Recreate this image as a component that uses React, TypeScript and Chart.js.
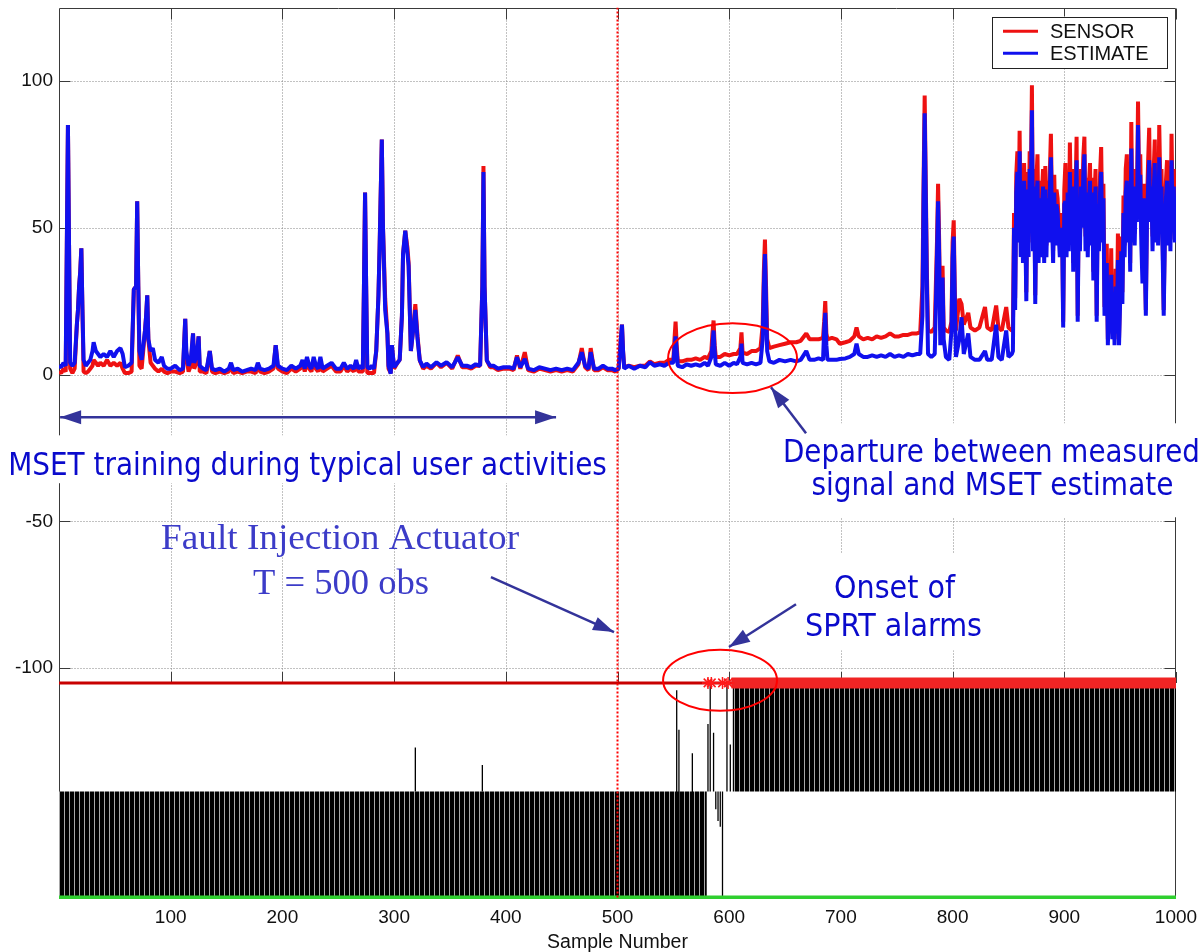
import React, { useEffect, useRef } from 'react';
import { Chart, registerables } from 'chart.js';

Chart.register(...registerables);

// ---------------------------------------------------------------------------
// Monitored signal: measured SENSOR value and MSET ESTIMATE per sample number
// ---------------------------------------------------------------------------

// Samples 0-248: training period
const SAMPLE_A = [
  0, 2, 4, 6, 7, 8, 9, 10,
  12, 14, 16, 17, 18, 19, 20, 21, 22,
  24, 26, 28, 30, 31, 33, 35, 37,
  40, 43, 46, 49, 52, 55, 57, 59,
  62, 65, 67, 69, 70, 71, 72, 74,
  77, 78, 79, 80, 82, 84, 86, 89,
  92, 94, 97, 100, 104, 108, 111, 113,
  114, 116, 118, 120, 121, 123, 125, 126,
  129, 132, 135, 137, 140, 144, 148, 152,
  154, 156, 160, 164, 168, 172, 176, 178,
  180, 184, 188, 192, 194, 196, 200, 204,
  208, 212, 216, 218, 220, 222, 224, 226,
  228, 230, 232, 234, 236, 240, 244, 248,
];
const SENSOR_A = [
  1, 0.5, 2, 1, 44, 85, 44, 2,
  0.5, 2, 17, 22, 30, 35, 43, 22, 1,
  0.5, 1, 2, 3, 5, 4, 3, 4,
  3, 5, 3, 4, 3, 4, 2, 0.5,
  0.5, 1, 29, 30, 59, 30, 3, 2,
  15, 20, 27, 12, 4, 3, 2, 1,
  2, 1, 0.5, 1, 1, 0.5, 1, 19,
  6, 1, 3, 14, 2, 4, 13, 1,
  1, 0.5, 8, 1, 0.5, 1, 0.5, 1,
  3, 0.5, 1, 0.5, 1, 1, 0.5, 3,
  1, 0.5, 1, 2, 10, 2, 1, 0.5,
  2, 1, 2, 4, 1, 5, 2, 1,
  5, 2, 1, 5, 1, 2, 3, 1,
];
const ESTIMATE_A = [
  3, 2.5, 4, 3, 44, 85, 44, 4,
  3, 4, 17, 22, 30, 35, 43, 22, 5,
  3, 4, 5, 8, 11, 8, 7, 6,
  7, 6, 8, 6, 8, 9, 7, 2.5,
  3, 4, 29, 30, 59, 30, 8, 5,
  15, 20, 27, 12, 8, 9, 5, 4,
  6, 3, 2, 2, 3, 1.5, 2, 19,
  8, 3, 5, 14, 4, 6, 13, 3,
  2, 1.5, 8, 2, 1.5, 2, 1, 2,
  4, 1.5, 2, 1, 1.5, 2, 1.5, 4,
  2, 1.5, 2, 3, 10, 3, 2, 1.5,
  3, 2, 3, 5, 2, 6, 3, 2,
  6, 3, 2, 6, 2, 3, 4, 2,
];

// Samples 252-498: end of training, before the fault
const SAMPLE_B = [
  252, 255, 258, 261, 264, 266, 268, 270,
  272, 273, 274, 275, 276, 278, 280, 282,
  284, 286, 287, 289, 290, 292, 294, 295,
  297, 298, 300, 303, 305, 307, 308, 310,
  312, 313, 315, 317, 319, 321, 323, 326,
  329, 333, 338, 342, 347, 352, 357, 361,
  365, 369, 373, 377, 379, 380, 381, 383,
  386, 389, 393, 398, 403, 407, 410, 413,
  417, 420, 425, 430, 435, 440, 445, 450,
  455, 460, 465, 468, 471, 474, 476, 479,
  483, 487, 491, 495, 498,
];
const SENSOR_B = [
  1, 3, 1, 2, 1, 4, 1, 1,
  1, 30, 62, 30, 0.5, 0.5, 0.5, 0.5,
  8, 27, 43, 80, 51, 26, 14, 2,
  0.5, 10, 2, 4, 5, 20, 41, 49,
  43, 38, 8, 15, 24, 13, 4.8, 2,
  3, 2, 4, 2.5, 4, 2, 6.5, 2.5,
  2.5, 2, 3, 3, 30, 71, 30, 4.8,
  2.5, 2.5, 1.5, 2, 2, 1.5, 6.5, 2,
  7.6, 1.5, 1, 2, 1.5, 1, 1.5, 1,
  1.5, 1, 3.5, 9, 2.5, 1.5, 9, 1.5,
  1.5, 2.5, 1.5, 1.5, 1,
];
const ESTIMATE_B = [
  2, 4, 2, 3, 2, 5, 2, 3,
  2, 30, 62, 30, 2.5, 2, 3, 2,
  8, 27, 43, 80, 51, 22, 14, 3,
  0.3, 10, 2.5, 4, 5, 20, 41, 49,
  41, 37, 8, 15, 22, 12, 4.8, 2.5,
  3.7, 2.5, 4.2, 3, 4.2, 2.5, 5.9, 3,
  3, 2.5, 3.5, 3, 30, 69, 30, 4.8,
  3, 3, 2, 2.5, 2.5, 2, 5.9, 2.5,
  5.3, 2, 1.5, 2.5, 2, 1.5, 2, 1.5,
  2, 1.5, 4, 7.6, 3, 2, 7.6, 2,
  2, 3, 2, 2, 1.5,
];

// Samples 501-853: after the fault is injected, sensor drifts above the estimate
const SAMPLE_C = [
  501, 503, 504, 505, 506, 510, 515, 520,
  525, 529, 533, 538, 542, 546, 550, 551,
  552, 553, 554, 558, 562, 566, 570, 574,
  578, 581, 584, 585, 586, 587, 588, 592,
  596, 600, 604, 607, 610, 611, 612, 616,
  620, 624, 628, 630, 631, 632, 633, 634,
  636, 640, 645, 650, 655, 660, 664, 669,
  672, 676, 680, 684, 685, 686, 687, 688,
  692, 696, 699, 704, 708, 712, 714, 716,
  720, 724, 728, 732, 736, 740, 744, 748,
  752, 756, 760, 764, 768, 771, 773, 774,
  775, 776, 777, 778, 781, 784, 786, 787,
  788, 789, 790, 791, 792, 794, 797, 799,
  800, 801, 802, 803, 806, 808, 810, 814,
  816, 820, 824, 829, 831, 835, 839, 841,
  844, 848, 850, 853,
];
const SENSOR_C = [
  2, 12, 17, 8, 2.5, 3, 2.5, 3,
  3, 4.5, 3.5, 4, 4, 5, 5, 12,
  18, 10, 4.5, 4.5, 5, 5, 5.5, 5,
  6, 5.5, 8, 14, 18.4, 10, 6, 6,
  7, 6.5, 7, 7, 9, 14.4, 7.5, 7,
  8, 8, 9, 17, 35, 46, 30, 12,
  9, 9.5, 10, 10.5, 11, 11, 11.5, 14,
  12, 12, 12, 12.5, 18, 25, 14, 12,
  12.5, 12, 10.5, 11, 11.5, 13, 16, 13,
  12, 12.5, 12, 13, 12.5, 13, 14, 13,
  13, 13.5, 13.5, 14, 14, 14.4, 30, 65,
  95, 65, 35, 15, 14.5, 16, 45, 65,
  45, 15, 32, 37, 16, 15, 14.5, 18,
  45, 52.5, 28, 15, 25.8, 24, 17, 21,
  16, 15, 16, 23, 16, 15, 23.5, 16,
  15, 23, 16, 15,
];
const ESTIMATE_C = [
  2, 12, 17, 8, 2, 3, 2, 3,
  2.5, 4.2, 3, 3.5, 3, 4, 4, 9,
  13, 8, 3, 2.5, 3.5, 3, 3.5, 3,
  4, 3, 6, 10, 15, 8, 3.5, 3,
  4, 3, 4, 3.5, 6, 10.5, 4, 3.5,
  4, 3.5, 4, 12, 30, 41, 25, 8,
  4.5, 4, 5, 4.5, 5, 4.5, 5, 8,
  5, 5, 5.5, 5, 15, 21, 10, 5,
  5, 5, 5.3, 5.5, 6, 7, 10.5, 7,
  6, 6, 6.5, 6, 6.5, 6, 7, 6,
  6.5, 6, 7, 6.5, 7, 7, 20, 60,
  89, 60, 30, 7, 6, 7, 40, 59,
  40, 10, 28, 33, 12, 6, 5, 15,
  40, 47, 25, 6, 12, 19.5, 7, 14,
  6, 5, 5, 8, 5, 5, 17, 6,
  5, 15, 6, 7,
];

// Samples 854-1000: high-activity period
const SAMPLE_D = [
  854, 855, 856, 857, 858, 859, 860, 861, 862, 863,
  864, 865, 866, 867, 868, 869, 870, 871, 872, 873,
  874, 875, 876, 877, 878, 879, 880, 881, 882, 883,
  884, 885, 886, 887, 888, 889, 890, 891, 892, 893,
  894, 896, 898, 899,
  900, 901, 902, 903, 904, 905, 906, 907, 908, 909,
  910, 911, 912, 913, 914, 915, 916, 917, 918, 919,
  920, 921, 922, 923, 924, 925, 926, 927, 928, 929,
  930, 931, 932, 933, 934, 935, 936, 937, 938, 939,
  940, 941, 942, 943, 944, 945, 946, 947, 948, 949,
  950, 951, 952, 953, 954, 955, 956, 957, 958, 959,
  960, 961, 962, 963, 964, 965, 966, 967, 968, 969,
  970, 971, 972, 973, 974, 975, 976, 977, 978, 979,
  980, 981, 982, 983, 984, 985, 986, 987, 988, 989,
  990, 991, 992, 993, 994, 995, 996, 997, 998, 999,
  1000,
];
const SENSOR_D = [
  15, 55, 26, 68, 76, 50, 83, 45, 66, 42,
  72, 57, 28, 69, 45, 76, 63, 98.5, 47, 70,
  27, 66, 75, 43, 66, 44, 62, 70, 42, 71,
  44, 66, 50, 68, 82, 57, 42, 68, 49, 63,
  60, 44, 55, 18,
  63, 72, 45, 68, 47, 79, 53, 70, 38, 70,
  60, 81, 20, 64, 46, 70, 55, 74, 81, 47,
  67, 44, 64, 72, 49, 67, 35, 60, 70, 20,
  64, 46, 68, 77.5, 50, 65, 23, 34, 44.5, 12,
  30, 18, 43, 14, 33, 12, 36, 16, 48, 12,
  30, 47, 28, 61, 44, 70, 75, 50, 67, 38,
  86, 50, 70, 48, 69, 57, 93, 63, 75, 49,
  43, 65, 45, 22, 57, 72, 84, 57, 70, 47,
  69, 80, 50, 70, 48, 85, 64, 70, 47, 22,
  50, 66, 73, 49, 68, 46, 82, 57, 70, 50,
  63,
];
const ESTIMATE_D = [
  8, 50, 22, 62, 69, 45, 76, 40, 60, 38,
  66, 52, 25, 63, 40, 70, 58, 90, 42, 64,
  24, 60, 66, 38, 60, 40, 57, 64, 38, 63,
  40, 60, 45, 62, 74, 52, 38, 62, 44, 58,
  55, 40, 50, 16,
  58, 59, 40, 62, 42, 69, 48, 64, 35, 62,
  55, 73, 18, 58, 42, 64, 50, 68, 75, 42,
  62, 40, 58, 66, 44, 62, 32, 55, 64, 18,
  58, 42, 62, 69, 45, 60, 20, 30, 38, 10,
  25, 15, 34, 12, 28, 10, 30, 14, 39, 10,
  25, 42, 24, 55, 40, 62, 66, 45, 60, 35,
  77, 45, 64, 44, 62, 52, 85, 58, 68, 44,
  31, 60, 40, 20, 52, 64, 73, 52, 64, 42,
  62, 72, 45, 64, 44, 74, 58, 64, 42, 20,
  45, 60, 66, 44, 62, 42, 73, 52, 64, 45,
  58,
];

const SAMPLES = [...SAMPLE_A, ...SAMPLE_B, ...SAMPLE_C, ...SAMPLE_D];
const SENSOR = [...SENSOR_A, ...SENSOR_B, ...SENSOR_C, ...SENSOR_D];
const ESTIMATE = [...ESTIMATE_A, ...ESTIMATE_B, ...ESTIMATE_C, ...ESTIMATE_D];

// ---------------------------------------------------------------------------
// SPRT alarm trace (drawn in the lower band of the same axes)
// ---------------------------------------------------------------------------
const FAULT_SAMPLE = 500;
const SPRT_ALARM_LEVEL = -105;
const SPRT_BASELINE = -178;

// Densely toggling SPRT index: [start, end] sample ranges with floor / ceiling levels
const SPRT_BAND_START = [0, 603];
const SPRT_BAND_END = [580, 1000];
const SPRT_BAND_FLOOR = [-180, -142];
const SPRT_BAND_CEIL = [-142, -105];

// Isolated SPRT excursions
const SPRT_SPIKE_X = [319, 379, 553, 555, 567, 581, 583, 586, 588, 590, 592, 594, 598, 601];
const SPRT_SPIKE_LOW = [-142, -142, -180, -180, -180, -142, -142, -142, -148, -152, -154, -180, -142, -142];
const SPRT_SPIKE_HIGH = [-127, -133, -107.5, -121, -129, -119, -106, -122, -142, -142, -142, -142, -105, -126];

// First alarms (individual markers) and the continuous alarm run
const ALARM_MARKERS = [581, 584, 594, 599];
const ALARM_RUN = [602, 1000];

// ---------------------------------------------------------------------------
// Axes
// ---------------------------------------------------------------------------
const X_TICKS = [100, 200, 300, 400, 500, 600, 700, 800, 900, 1000];
const Y_TICKS = [-100, -50, 0, 50, 100];
const Y_MIN = -178.6;
const Y_MAX = 125;

// ---------------------------------------------------------------------------
// Annotations (sample / value coordinates)
// ---------------------------------------------------------------------------
const NOTE_BOXES = [
  { s0: -53, s1: 495, v0: -20.7, v1: -37 },
  { s0: 627.6, s1: 1025, v0: -16.6, v1: -48.6 },
  { s0: 649, s1: 851.4, v0: -60.8, v1: -93.9 },
];
const SANS_NOTES = [
  { text: 'MSET training during typical user activities', s: 222.5, v: -34.3, w: 536 },
  { text: 'Departure between measured', s: 834.8, v: -29.9, w: 373.3 },
  { text: 'signal and MSET estimate', s: 835.7, v: -41.1, w: 324.1 },
  { text: 'Onset of', s: 748, v: -76.2, w: 108.3 },
  { text: 'SPRT alarms', s: 747.1, v: -89.1, w: 158.5 },
];
const SERIF_NOTES = [
  { text: 'Fault Injection Actuator', s: 251.6, v: -59.5, w: 320.5 },
  { text: 'T = 500 obs', s: 252.5, v: -74.8, w: 157.6 },
];
const ARROWS = [
  { s0: 1, v0: -14.55, s1: 445, v1: -14.55, both: true },
  { s0: 386.7, v0: -69, s1: 496.9, v1: -87.7, both: false },
  { s0: 668.8, v0: -20, s1: 637.4, v1: -4.3, both: false },
  { s0: 659.8, v0: -78.2, s1: 599.8, v1: -92.8, both: false },
];
const RINGS = [
  { s: 603, v: 5.6, rs: 57.7, rv: 11.9 },
  { s: 591.8, v: -104.1, rs: 51, rv: 10.4 },
];

const SENSOR_COLOR = '#ee1111';
const ESTIMATE_COLOR = '#1010ee';
const NOTE_COLOR = '#0a0acc';
const SERIF_COLOR = '#3c3cc8';
const ARROW_COLOR = '#33339a';
const AXIS_FONT = '"Liberation Sans", Arial, Helvetica, sans-serif';

const points = (xs: number[], ys: (number | null)[]) => xs.map((x, i) => ({ x, y: ys[i] }));

// Fine vertical hatch used for the rapidly toggling SPRT index
function stripePattern(ctx: CanvasRenderingContext2D): CanvasPattern | string {
  const tile = document.createElement('canvas');
  tile.width = 5;
  tile.height = 4;
  const g = tile.getContext('2d');
  if (!g) return '#000';
  g.fillStyle = '#000';
  g.fillRect(0, 0, 5, 4);
  g.fillStyle = '#a8a8a8';
  g.fillRect(4, 0, 1, 4);
  return ctx.createPattern(tile, 'repeat') || '#000';
}

function drawArrowHead(ctx: CanvasRenderingContext2D, x0: number, y0: number, x1: number, y1: number) {
  const ang = Math.atan2(y1 - y0, x1 - x0);
  const len = 21;
  const half = 7;
  const bx = x1 - Math.cos(ang) * len;
  const by = y1 - Math.sin(ang) * len;
  ctx.beginPath();
  ctx.moveTo(x1, y1);
  ctx.lineTo(bx + Math.sin(ang) * half, by - Math.cos(ang) * half);
  ctx.lineTo(bx - Math.sin(ang) * half, by + Math.cos(ang) * half);
  ctx.closePath();
  ctx.fill();
}

const frameAndGrid = {
  id: 'frameAndGrid',
  beforeDatasetsDraw(chart: any) {
    const { ctx, chartArea: a, scales } = chart;
    const xs = scales.x;
    const ys = scales.y;
    const upperBottom = Math.round(ys.getPixelForValue(SPRT_ALARM_LEVEL));
    const L = Math.round(a.left) + 0.5;
    const R = Math.round(a.right) - 0.5;
    const T = Math.round(a.top) + 0.5;
    const B = Math.round(a.bottom) - 0.5;
    const line = (x0: number, y0: number, x1: number, y1: number) => {
      ctx.beginPath();
      ctx.moveTo(x0, y0);
      ctx.lineTo(x1, y1);
      ctx.stroke();
    };
    ctx.save();
    ctx.lineWidth = 1;
    ctx.strokeStyle = '#858585';
    ctx.setLineDash([1, 2]);
    for (const v of Y_TICKS) {
      const p = Math.round(ys.getPixelForValue(v)) + 0.5;
      line(L, p, R, p);
    }
    for (const s of X_TICKS) {
      if (s >= 1000) continue;
      const p = Math.round(xs.getPixelForValue(s)) + 0.5;
      line(p, T, p, upperBottom);
    }
    ctx.setLineDash([]);
    ctx.strokeStyle = '#3a3a3a';
    line(L, T, R, T);
    line(L, T, L, B);
    line(R, T, R, B);
    line(L, B, R, B);
    const tick = 11;
    for (const v of Y_TICKS) {
      const p = Math.round(ys.getPixelForValue(v)) + 0.5;
      line(L, p, L + tick, p);
      line(R - tick, p, R, p);
    }
    for (const s of X_TICKS) {
      const p = Math.round(xs.getPixelForValue(s)) + 0.5;
      line(p, T, p, T + tick);
      line(p, upperBottom - tick, p, upperBottom);
    }
    ctx.restore();
  },
};

const notes = {
  id: 'notes',
  afterDatasetsDraw(chart: any) {
    const { ctx, chartArea: a, scales } = chart;
    const X = (s: number) => scales.x.getPixelForValue(s);
    const Y = (v: number) => scales.y.getPixelForValue(v);
    ctx.save();

    // white backing boxes behind the callout text
    ctx.fillStyle = '#ffffff';
    for (const b of NOTE_BOXES) {
      ctx.fillRect(X(b.s0), Y(b.v0), X(b.s1) - X(b.s0), Y(b.v1) - Y(b.v0));
    }

    // red rings
    ctx.strokeStyle = '#ff0000';
    ctx.lineWidth = 2;
    for (const r of RINGS) {
      ctx.beginPath();
      ctx.ellipse(X(r.s), Y(r.v), X(r.s + r.rs) - X(r.s), Y(r.v - r.rv) - Y(r.v), 0, 0, Math.PI * 2);
      ctx.stroke();
    }

    // arrows
    ctx.strokeStyle = ARROW_COLOR;
    ctx.fillStyle = ARROW_COLOR;
    ctx.lineWidth = 2.5;
    for (const ar of ARROWS) {
      const x0 = X(ar.s0), y0 = Y(ar.v0), x1 = X(ar.s1), y1 = Y(ar.v1);
      ctx.beginPath();
      ctx.moveTo(x0, y0);
      ctx.lineTo(x1, y1);
      ctx.stroke();
      drawArrowHead(ctx, x0, y0, x1, y1);
      if (ar.both) drawArrowHead(ctx, x1, y1, x0, y0);
    }

    // callout text, fitted to its width
    const fit = (text: string, s: number, v: number, w: number, font: string, color: string) => {
      ctx.font = font;
      const natural = ctx.measureText(text).width;
      const target = X(s + w / 2) - X(s - w / 2);
      ctx.save();
      ctx.translate(X(s), Y(v));
      ctx.scale(target / natural, 1);
      ctx.fillStyle = color;
      ctx.textAlign = 'center';
      ctx.textBaseline = 'alphabetic';
      ctx.fillText(text, 0, 0);
      ctx.restore();
    };
    for (const n of SANS_NOTES) fit(n.text, n.s, n.v, n.w, '32px "DejaVu Sans", Verdana, sans-serif', NOTE_COLOR);
    for (const n of SERIF_NOTES) fit(n.text, n.s, n.v, n.w, '36px "Liberation Serif", "Times New Roman", serif', SERIF_COLOR);

    // legend box
    const lx1 = a.right - 9;
    const lx0 = lx1 - 175;
    const ly0 = a.top + 9;
    ctx.fillStyle = '#ffffff';
    ctx.fillRect(lx0, ly0, 175, 51);
    ctx.strokeStyle = '#222';
    ctx.lineWidth = 1;
    ctx.strokeRect(Math.round(lx0) + 0.5, Math.round(ly0) + 0.5, 175, 51);
    const entries = [
      { label: 'SENSOR', color: SENSOR_COLOR, y: ly0 + 14.7 },
      { label: 'ESTIMATE', color: ESTIMATE_COLOR, y: ly0 + 36.7 },
    ];
    ctx.font = `20px ${AXIS_FONT}`;
    ctx.textBaseline = 'alphabetic';
    ctx.textAlign = 'left';
    for (const e of entries) {
      ctx.strokeStyle = e.color;
      ctx.lineWidth = 3;
      ctx.beginPath();
      ctx.moveTo(lx0 + 11, e.y);
      ctx.lineTo(lx0 + 46, e.y);
      ctx.stroke();
      ctx.fillStyle = '#111';
      ctx.fillText(e.label, lx0 + 58, e.y + 7);
    }
    ctx.restore();
  },
};

export default function App() {
  const canvasRef = useRef<HTMLCanvasElement | null>(null);

  useEffect(() => {
    const canvas = canvasRef.current;
    if (!canvas) return;
    const ctx = canvas.getContext('2d');
    if (!ctx) return;
    const stripes = stripePattern(ctx);

    const bandSets = SPRT_BAND_START.map((start, i) => ({
      label: `sprt-band-${i}`,
      data: points([start, SPRT_BAND_END[i]], [SPRT_BAND_CEIL[i], SPRT_BAND_CEIL[i]]),
      borderWidth: 0,
      borderColor: 'rgba(0,0,0,0)',
      backgroundColor: stripes,
      fill: { value: SPRT_BAND_FLOOR[i] },
      pointRadius: 0,
      order: 9,
    }));

    const spikeData = SPRT_SPIKE_X.flatMap((s, i) => [
      { x: s, y: SPRT_SPIKE_LOW[i] },
      { x: s, y: SPRT_SPIKE_HIGH[i] },
      { x: s, y: null },
    ]);

    const chart = new Chart(canvas, {
      type: 'line',
      data: {
        datasets: [
          {
            label: 'fault',
            data: points([FAULT_SAMPLE, FAULT_SAMPLE], [Y_MAX, Y_MIN]),
            borderColor: '#ff0000',
            borderWidth: 2,
            borderDash: [2, 2],
            pointRadius: 0,
            order: 0,
          },
          {
            label: 'baseline',
            data: points([0, 1000], [SPRT_BASELINE, SPRT_BASELINE]),
            borderColor: '#2fcf2f',
            borderWidth: 3.5,
            pointRadius: 0,
            order: 1,
          },
          {
            label: 'ESTIMATE',
            data: points(SAMPLES, ESTIMATE),
            borderColor: ESTIMATE_COLOR,
            borderWidth: 4,
            borderJoinStyle: 'bevel',
            pointRadius: 0,
            order: 2,
          },
          {
            label: 'SENSOR',
            data: points(SAMPLES, SENSOR),
            borderColor: SENSOR_COLOR,
            borderWidth: 4,
            borderJoinStyle: 'bevel',
            pointRadius: 0,
            order: 3,
          },
          {
            label: 'alarms',
            data: points(ALARM_MARKERS, ALARM_MARKERS.map(() => SPRT_ALARM_LEVEL)),
            showLine: false,
            pointStyle: 'star',
            pointRadius: 6,
            pointBorderWidth: 1.5,
            pointBorderColor: '#ff1a1a',
            order: 4,
          },
          {
            label: 'alarm-run',
            data: points(ALARM_RUN, [SPRT_ALARM_LEVEL, SPRT_ALARM_LEVEL]),
            borderColor: '#f02424',
            borderWidth: 11,
            pointRadius: 0,
            clip: false,
            order: 5,
          },
          {
            label: 'threshold',
            data: points([0, 1000], [SPRT_ALARM_LEVEL, SPRT_ALARM_LEVEL]),
            borderColor: '#c80000',
            borderWidth: 3,
            pointRadius: 0,
            order: 6,
          },
          {
            label: 'sprt-spikes',
            data: spikeData,
            borderColor: '#000',
            borderWidth: 1.3,
            pointRadius: 0,
            spanGaps: false,
            order: 7,
          },
          ...bandSets,
        ] as any,
      },
      options: {
        animation: false,
        responsive: false,
        maintainAspectRatio: false,
        devicePixelRatio: 1,
        events: [],
        layout: { padding: { top: 7, right: 27, left: 0, bottom: 0 } },
        plugins: {
          legend: { display: false },
          tooltip: { enabled: false },
        },
        elements: { line: { tension: 0 }, point: { radius: 0 } },
        scales: {
          x: {
            type: 'linear',
            min: 0,
            max: 1000,
            grid: { display: false, drawTicks: false },
            border: { display: false },
            afterBuildTicks: (axis: any) => {
              axis.ticks = X_TICKS.map((value) => ({ value }));
            },
            afterFit: (axis: any) => {
              axis.height = 53;
              axis.paddingLeft = 0;
              axis.paddingRight = 0;
            },
            ticks: {
              autoSkip: false,
              maxRotation: 0,
              minRotation: 0,
              padding: 7,
              color: '#111',
              font: { family: AXIS_FONT, size: 19 },
              callback: (v: any) => String(v),
            },
            title: {
              display: true,
              text: 'Sample Number',
              color: '#111',
              padding: 0,
              font: { family: AXIS_FONT, size: 19.5, lineHeight: 1 },
            },
          },
          y: {
            type: 'linear',
            min: Y_MIN,
            max: Y_MAX,
            grid: { display: false, drawTicks: false },
            border: { display: false },
            afterBuildTicks: (axis: any) => {
              axis.ticks = Y_TICKS.map((value) => ({ value }));
            },
            afterFit: (axis: any) => {
              axis.width = 59;
              axis.paddingTop = 0;
              axis.paddingBottom = 0;
            },
            ticks: {
              autoSkip: false,
              padding: 6,
              color: '#111',
              font: { family: AXIS_FONT, size: 19 },
              callback: (v: any) => String(v),
            },
          },
        },
      } as any,
      plugins: [frameAndGrid, notes],
    });

    return () => chart.destroy();
  }, []);

  return (
    <div style={{ position: 'fixed', left: 0, top: 0, width: 1203, height: 952, background: '#fff' }}>
      <canvas ref={canvasRef} width={1203} height={952} style={{ display: 'block' }} />
    </div>
  );
}
